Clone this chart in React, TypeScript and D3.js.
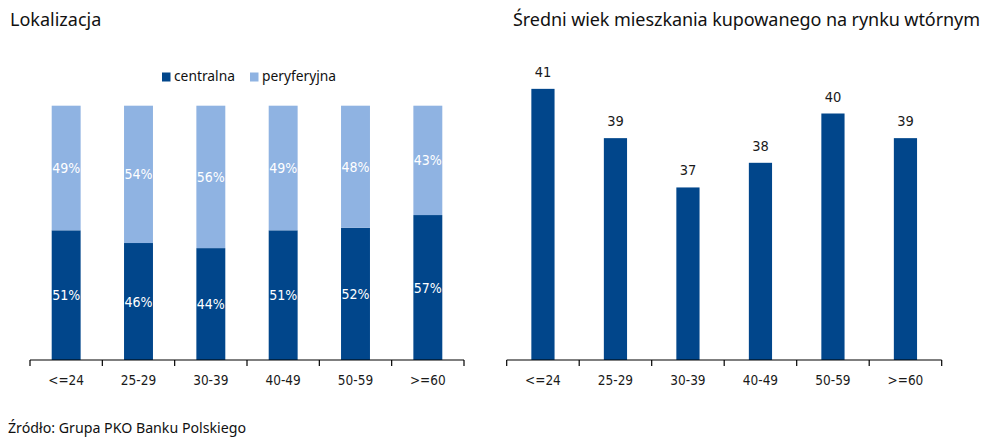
import React from "react";
import * as d3 from "d3";

const categories = ["<=24", "25-29", "30-39", "40-49", "50-59", ">=60"];
const central = [51, 46, 44, 51, 52, 57];
const peripheral = [49, 54, 56, 49, 48, 43];
const avgAge = [41, 39, 37, 38, 40, 39];
const legendLabels = ["centralna", "peryferyjna"];

const DARK = "#01468b";
const LIGHT = "#8fb3e2";
const TITLE_FONT = "'Noto Sans', 'Open Sans', sans-serif";
const NUM_FONT = "'DejaVu Sans Condensed', 'DejaVu Sans', sans-serif";

function Axis({ x, y0 }: { x: d3.ScaleBand<string>; y0: number }) {
  const [r0, r1] = x.range();
  const step = x.step();
  const ticks = d3.range(categories.length + 1).map((i) => r0 + i * step);
  return (
    <g>
      <line x1={r0} x2={r1} y1={y0} y2={y0} stroke="#000" strokeWidth={1.2} />
      {ticks.map((t, i) => (
        <line key={i} x1={t} x2={t} y1={y0} y2={y0 + 6} stroke="#000" strokeWidth={1.2} />
      ))}
      {categories.map((c) => (
        <text
          key={c}
          x={(x(c) as number) + x.bandwidth() / 2}
          y={y0 + 25}
          textAnchor="middle"
          fontFamily={NUM_FONT}
          fontStretch="condensed"
          fontSize={13.5}
          fill="#1a1a1a"
        >
          {c}
        </text>
      ))}
    </g>
  );
}

export default function App() {
  const y0 = 360;
  const xL = d3.scaleBand<string>().domain(categories).range([30, 464]).paddingInner(0.6).paddingOuter(0.3);
  const yL = d3.scaleLinear().domain([0, 100]).range([y0, 105.7]);

  const xR = d3.scaleBand<string>().domain(categories).range([506.7, 941.7]).paddingInner(0.68).paddingOuter(0.34);
  const yR = d3.scaleLinear().domain([30, 42]).range([y0, y0 - 12 * 24.65]);

  const stack = d3
    .stack<any>()
    .keys(["central", "peripheral"])(categories.map((c, i) => ({ cat: c, central: central[i], peripheral: peripheral[i] })));
  const colors = [DARK, LIGHT];

  return (
    <svg width={998} height={443} style={{ position: "absolute", left: 0, top: 0, background: "#fff" }}>
      <rect width={998} height={443} fill="#fff" />
      <text x={10} y={26} fontFamily={TITLE_FONT} fontSize={18} fill="#111">
        Lokalizacja
      </text>
      <text x={513} y={26} fontFamily={TITLE_FONT} fontSize={18} fill="#111" textLength={467} lengthAdjust="spacing">
        Średni wiek mieszkania kupowanego na rynku wtórnym
      </text>

      {/* legend */}
      <rect x={162} y={72.5} width={8.5} height={9} fill={DARK} />
      <text x={174} y={81} fontFamily={TITLE_FONT} fontSize={13.8} fill="#111">
        {legendLabels[0]}
      </text>
      <rect x={250} y={72.5} width={8.5} height={9} fill={LIGHT} />
      <text x={262} y={81} fontFamily={TITLE_FONT} fontSize={13.8} fill="#111">
        {legendLabels[1]}
      </text>

      {/* left stacked bars */}
      {stack.map((layer, li) => (
        <g key={li}>
          {layer.map((d, i) => {
            const c = categories[i];
            const top = yL(d[1]);
            const bot = yL(d[0]);
            return (
              <g key={c}>
                <rect x={xL(c)} y={top} width={xL.bandwidth()} height={bot - top} fill={colors[li]} />
                <text
                  x={(xL(c) as number) + xL.bandwidth() / 2}
                  y={(top + bot) / 2 + 5}
                  textAnchor="middle"
                  fontFamily={NUM_FONT}
                  fontStretch="condensed"
                  fontSize={14}
                  fill="#fff"
                >
                  {`${d[1] - d[0]}%`}
                </text>
              </g>
            );
          })}
        </g>
      ))}
      <Axis x={xL} y0={y0} />

      {/* right bars */}
      {avgAge.map((v, i) => {
        const c = categories[i];
        return (
          <g key={c}>
            <rect x={xR(c)} y={yR(v)} width={xR.bandwidth()} height={y0 - yR(v)} fill={DARK} />
            <text
              x={(xR(c) as number) + xR.bandwidth() / 2}
              y={yR(v) - 12}
              textAnchor="middle"
              fontFamily={NUM_FONT}
              fontStretch="condensed"
              fontSize={14.5}
              fill="#1a1a1a"
            >
              {v}
            </text>
          </g>
        );
      })}
      <Axis x={xR} y0={y0} />

      <text x={8} y={433} fontFamily={TITLE_FONT} fontSize={14.2} fill="#111">
        Źródło: Grupa PKO Banku Polskiego
      </text>
    </svg>
  );
}
